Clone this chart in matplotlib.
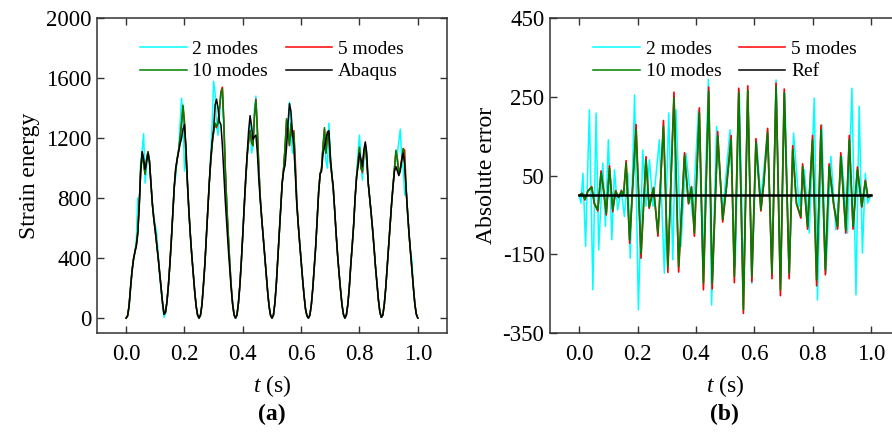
import numpy as np
import matplotlib
matplotlib.use("Agg")
import matplotlib.pyplot as plt

plt.rcParams['font.family'] = ['Liberation Serif', 'DejaVu Serif']
plt.rcParams['mathtext.fontset'] = 'custom'
plt.rcParams['mathtext.it'] = 'Liberation Serif:italic'
plt.rcParams['axes.unicode_minus'] = False

# ---- (a) strain energy, sampled every 0.005 s ----
t_a = np.linspace(0.0, 1.0, 201)

abaqus = [
    0, 15, 80, 200, 310, 390, 440, 480, 560, 750, 980, 1110, 1060, 990, 1040, 1100, 1040, 900, 760, 660, 580, 490, 400, 300, 200, 100, 25,
    40, 110, 220, 360, 520, 700, 880, 1000, 1060, 1110, 1160, 1200, 1260, 1290, 1150, 920, 720, 560, 420, 300, 180, 80, 20, 0,
    20, 90, 220, 360, 540, 720, 900, 1060, 1180, 1260, 1420, 1460, 1400, 1310, 1290, 1150, 960, 780, 620, 470, 330, 200, 90, 20, 0,
    20, 100, 220, 380, 560, 760, 940, 1100, 1250, 1350, 1280, 1190, 1210, 1220, 1100, 920, 780, 660, 540, 420, 300, 180, 80, 20, 0,
    20, 100, 230, 400, 560, 740, 900, 980, 1020, 1140, 1300, 1430, 1380, 1240, 1140, 960, 760, 620, 500, 380, 260, 150, 60, 15, 0,
    20, 90, 200, 340, 480, 660, 840, 960, 980, 1100, 1140, 1190, 1240, 1250, 1080, 960, 880, 720, 560, 420, 300, 190, 90, 25, 0,
    20, 90, 200, 350, 480, 620, 800, 940, 1010, 1100, 1060, 1010, 1120, 1175, 1100, 900, 800, 700, 590, 470, 340, 230, 120, 40, 5,
    20, 90, 200, 340, 480, 620, 760, 880, 980, 1010, 980, 950, 980, 1060, 1100, 1020, 850, 700, 560, 440, 320, 200, 90, 25, 0,
]

modes10_a = [
    0, 15, 80, 200, 310, 390, 440, 490, 580, 760, 990, 1100, 1020, 960, 1060, 1110, 1050, 900, 760, 660, 580, 490, 400, 300, 200, 100, 25,
    40, 110, 220, 360, 520, 700, 870, 990, 1060, 1120, 1200, 1300, 1420, 1300, 1100, 900, 720, 560, 420, 300, 180, 80, 20, 0,
    20, 90, 220, 360, 540, 720, 900, 1040, 1160, 1240, 1300, 1280, 1300, 1400, 1500, 1530, 1300, 1000, 760, 560, 380, 220, 100, 25, 0,
    20, 100, 220, 380, 560, 740, 920, 1080, 1180, 1250, 1180, 1150, 1350, 1450, 1250, 1000, 800, 660, 540, 420, 300, 180, 80, 20, 0,
    20, 100, 230, 400, 560, 740, 900, 1000, 1150, 1330, 1250, 1150, 1300, 1220, 1240, 1000, 780, 630, 500, 380, 260, 150, 60, 15, 0,
    20, 90, 200, 340, 480, 660, 840, 960, 1000, 1150, 1270, 1100, 1200, 1240, 1050, 960, 860, 720, 560, 420, 300, 190, 90, 25, 0,
    20, 90, 200, 350, 480, 620, 800, 940, 1040, 1140, 1000, 980, 1100, 1150, 1050, 900, 800, 700, 590, 470, 340, 230, 120, 40, 5,
    20, 90, 200, 340, 480, 620, 760, 880, 1000, 1120, 1060, 960, 1000, 1050, 1130, 1050, 860, 700, 560, 440, 320, 200, 90, 25, 0,
]

modes5_a = [
    0, 15, 80, 200, 310, 390, 440, 490, 580, 760, 990, 1100, 1030, 960, 1060, 1110, 1050, 900, 760, 660, 580, 490, 400, 300, 200, 100, 25,
    40, 110, 220, 360, 520, 700, 870, 990, 1060, 1120, 1200, 1300, 1410, 1310, 1100, 900, 720, 560, 420, 300, 180, 80, 20, 0,
    20, 90, 220, 360, 540, 720, 900, 1040, 1160, 1240, 1290, 1270, 1300, 1400, 1510, 1540, 1310, 1000, 760, 560, 380, 220, 100, 25, 0,
    20, 100, 220, 380, 560, 740, 920, 1080, 1180, 1250, 1170, 1150, 1350, 1460, 1260, 1000, 800, 660, 540, 420, 300, 180, 80, 20, 0,
    20, 100, 230, 400, 560, 740, 900, 1000, 1140, 1320, 1240, 1150, 1290, 1210, 1250, 1050, 780, 630, 500, 380, 260, 150, 60, 15, 0,
    20, 90, 200, 340, 480, 660, 840, 960, 1000, 1140, 1260, 1100, 1220, 1230, 1040, 960, 860, 720, 560, 420, 300, 190, 90, 25, 0,
    20, 90, 200, 350, 480, 620, 800, 940, 1040, 1130, 1000, 970, 1100, 1160, 1040, 900, 800, 700, 590, 470, 340, 230, 120, 40, 5,
    20, 90, 200, 340, 480, 620, 760, 880, 1000, 1110, 1060, 960, 1000, 1060, 1130, 1120, 860, 700, 560, 440, 320, 200, 90, 25, 0,
]

modes2_a = [
    0, 15, 70, 190, 300, 380, 440, 520, 800, 760, 1050, 1120, 1230, 900, 1000, 1080, 1050, 880, 760, 680, 620, 560, 420, 290, 180, 80, 5,
    30, 100, 220, 360, 520, 700, 880, 950, 1060, 1120, 1300, 1466, 1350, 980, 1080, 900, 720, 560, 420, 300, 180, 80, 20, 0,
    20, 90, 220, 360, 540, 720, 900, 1080, 1300, 1580, 1500, 1280, 1220, 1350, 1500, 1480, 1250, 980, 760, 560, 380, 220, 100, 25, 0,
    20, 100, 220, 380, 560, 740, 920, 1080, 1200, 1300, 1100, 1150, 1400, 1480, 1200, 1000, 800, 660, 540, 420, 300, 180, 80, 20, 0,
    20, 100, 230, 400, 560, 740, 900, 1000, 1120, 1300, 1200, 1440, 1300, 1100, 1200, 1000, 780, 630, 500, 380, 260, 150, 60, 15, 0,
    20, 90, 200, 340, 480, 660, 840, 960, 1000, 1150, 1200, 1050, 1000, 1300, 1100, 960, 860, 720, 560, 420, 300, 190, 90, 25, 0,
    20, 90, 200, 350, 480, 620, 800, 950, 1100, 1220, 1050, 920, 1050, 1150, 1080, 900, 800, 700, 590, 470, 340, 230, 120, 40, 5,
    20, 90, 200, 340, 480, 620, 760, 880, 1000, 1050, 1100, 1180, 1260, 1050, 1000, 820, 900, 700, 560, 440, 380, 200, 90, 25, 0,
]

# ---- (b) absolute error, turning points ----
t_b10 = [0.0, 0.01, 0.02, 0.03, 0.043, 0.052, 0.064, 0.075, 0.084, 0.093, 0.104, 0.115, 0.125, 0.135, 0.145, 0.152,
         0.161, 0.173, 0.185, 0.195, 0.212, 0.229, 0.24, 0.255, 0.27, 0.289, 0.304, 0.325, 0.341, 0.361, 0.375, 0.385,
         0.395, 0.412, 0.426, 0.444, 0.456, 0.475, 0.492, 0.505, 0.521, 0.532, 0.547, 0.563, 0.578, 0.592, 0.606, 0.623,
         0.633, 0.646, 0.661, 0.675, 0.69, 0.703, 0.72, 0.732, 0.745, 0.76, 0.766, 0.783, 0.8, 0.814, 0.829, 0.844,
         0.857, 0.872, 0.886, 0.897, 0.914, 0.926, 0.939, 0.954, 0.969, 0.981, 0.99, 1.0]
err10 = [0, 5, -10, 10, 20, -20, -37, 56, 10, -45, 69, -37, 10, -5, 10, 0,
         82, -113, 40, 166, -147, 90, -30, 18, -96, 175, -181, 247, -181, 99, -20, 20,
         -96, 209, -223, 264, -223, 150, -62, 20, 141, -206, 260, -291, 266, -206, 133, -37,
         30, 158, -198, 277, -240, 260, -198, 116, -20, -54, 73, -79, 141, -215, 166, -189,
         73, -20, -79, 99, -88, 141, -79, 65, -28, 35, -5, 0]
err5 = [0, 5, -12, 12, 22, -22, -40, 62, 12, -50, 75, -42, 12, -6, 12, 0,
        88, -122, 44, 180, -160, 98, -33, 20, -104, 190, -196, 262, -195, 108, -22, 22,
        -104, 222, -240, 275, -238, 162, -68, 22, 152, -222, 272, -300, 278, -220, 144, -40,
        33, 170, -212, 285, -255, 270, -212, 126, -22, -58, 80, -86, 152, -230, 178, -202,
        80, -22, -86, 108, -96, 152, -86, 72, -30, 38, -6, 0]

t_b2 = [0.0, 0.006, 0.013, 0.022, 0.035, 0.047, 0.058, 0.067, 0.081, 0.09, 0.1, 0.112, 0.121, 0.132, 0.144, 0.155,
        0.167, 0.175, 0.19, 0.203, 0.218, 0.229, 0.241, 0.253, 0.275, 0.292, 0.307, 0.321, 0.332, 0.349, 0.366, 0.389,
        0.409, 0.424, 0.443, 0.454, 0.471, 0.492, 0.517, 0.535, 0.549, 0.564, 0.578, 0.592, 0.608, 0.623, 0.646, 0.661,
        0.675, 0.69, 0.705, 0.72, 0.735, 0.754, 0.772, 0.789, 0.806, 0.817, 0.832, 0.846, 0.863, 0.88, 0.9, 0.92,
        0.935, 0.949, 0.96, 0.971, 0.981, 0.989, 1.0]
err2 = [0, -20, 56, -130, 217, -240, 209, -139, 82, -79, 141, -113, 65, -37, 14, -54,
        56, -160, 255, -291, 115, -28, 90, -28, 141, -198, 209, -164, 217, -130, 107, -54,
        217, -181, 295, -279, 175, -45, 166, -181, 268, -232, 264, -223, 141, -12, 166, -198,
        293, -223, 260, -206, 158, -28, 65, -96, 247, -266, 179, -198, 99, -88, 99, -96,
        272, -253, 226, -147, 56, -20, 0]

t_ref = [0.0, 1.0]
err_ref = [0, 0]

fig = plt.figure(figsize=(8.92, 4.32), dpi=100)
ax1 = fig.add_axes([0.1087, 0.229, 0.3924, 0.729])
ax2 = fig.add_axes([0.6166, 0.229, 0.3924, 0.729])

cyan, red, green = '#00ffff', '#ff0000', '#008000'

ax1.plot(t_a, modes2_a, color=cyan, lw=1.1, label='2 modes')
ax1.plot(t_a, modes5_a, color=red, lw=1.1, label='5 modes')
ax1.plot(t_a, modes10_a, color=green, lw=1.1, label='10 modes')
ax1.plot(t_a, abaqus, color='black', lw=1.1, label='Abaqus')

ax2.plot(t_b2, err2, color=cyan, lw=1.1, label='2 modes')
ax2.plot(t_b10, err5, color=red, lw=1.2, label='5 modes')
ax2.plot(t_b10, err10, color=green, lw=1.2, label='10 modes')
ax2.plot(t_ref, err_ref, color='black', lw=1.8, label='Ref')

ax1.set_xlim(-0.1, 1.1)
ax1.set_ylim(-100, 2000)
ax1.set_yticks([0, 400, 800, 1200, 1600, 2000])
ax2.set_xlim(-0.1, 1.1)
ax2.set_ylim(-350, 450)
ax2.set_yticks([-350, -150, 50, 250, 450])

for ax, ylab in [(ax1, 'Strain energy'), (ax2, 'Absolute error')]:
    ax.set_xticks([0.0, 0.2, 0.4, 0.6, 0.8, 1.0])
    ax.set_xticklabels(['0.0', '0.2', '0.4', '0.6', '0.8', '1.0'])
    ax.tick_params(direction='in', top=True, right=True, length=5, width=1,
                   labelsize=16.5, color='#333333')
    ax.tick_params(axis='x', pad=8)
    ax.tick_params(axis='y', pad=4)
    for s in ax.spines.values():
        s.set_linewidth(1.1)
        s.set_color('#333333')
    ax.set_ylabel(ylab, fontsize=17, labelpad=4)
    ax.set_xlabel(r'$t$ (s)', fontsize=17, labelpad=6)
    h, l = ax.get_legend_handles_labels()
    order = [0, 2, 1, 3]
    leg = ax.legend([h[i] for i in order], [l[i] for i in order], ncol=2, loc='upper center',
                    bbox_to_anchor=(0.5, 0.985), frameon=False, fontsize=14,
                    handlelength=2.4, handletextpad=0.3, columnspacing=0.9, labelspacing=0.25)
    for line in leg.get_lines():
        line.set_linewidth(1.1)

fig.text(0.305, 0.04, '(a)', ha='center', va='center', fontsize=17, fontweight='bold')
fig.text(0.812, 0.04, '(b)', ha='center', va='center', fontsize=17, fontweight='bold')

fig.savefig('out.png', dpi=100)
